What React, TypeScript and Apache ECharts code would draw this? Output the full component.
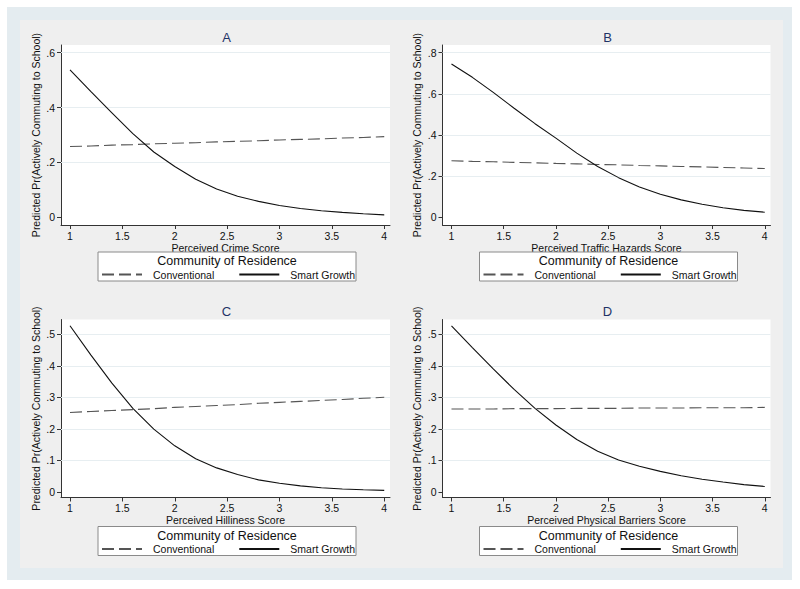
import React, { useEffect, useRef } from "react";
import * as echarts from "echarts";

// ---------- data ----------
const xValues = [1, 1.2, 1.4, 1.6, 1.8, 2, 2.2, 2.4, 2.6, 2.8, 3, 3.2, 3.4, 3.6, 3.8, 4];

const crimeConventional = [0.258, 0.26, 0.263, 0.265, 0.268, 0.27, 0.272, 0.275, 0.277, 0.279, 0.282, 0.284, 0.286, 0.289, 0.291, 0.294];
const crimeSmart = [0.537, 0.458, 0.381, 0.305, 0.238, 0.185, 0.139, 0.103, 0.077, 0.058, 0.043, 0.032, 0.024, 0.018, 0.013, 0.009];

const trafficConventional = [0.275, 0.272, 0.27, 0.267, 0.265, 0.262, 0.26, 0.257, 0.255, 0.252, 0.25, 0.247, 0.245, 0.242, 0.24, 0.237];
const trafficSmart = [0.745, 0.68, 0.607, 0.53, 0.455, 0.385, 0.312, 0.247, 0.193, 0.148, 0.112, 0.085, 0.064, 0.047, 0.034, 0.025];

const hillinessConventional = [0.252, 0.255, 0.258, 0.261, 0.264, 0.268, 0.271, 0.274, 0.277, 0.281, 0.284, 0.287, 0.29, 0.293, 0.297, 0.3];
const hillinessSmart = [0.527, 0.434, 0.345, 0.265, 0.199, 0.146, 0.105, 0.076, 0.055, 0.038, 0.027, 0.019, 0.013, 0.009, 0.0065, 0.0045];

const barriersConventional = [0.263, 0.263, 0.263, 0.264, 0.264, 0.264, 0.265, 0.265, 0.265, 0.266, 0.266, 0.266, 0.267, 0.267, 0.267, 0.268];
const barriersSmart = [0.527, 0.458, 0.39, 0.325, 0.265, 0.212, 0.166, 0.129, 0.101, 0.081, 0.065, 0.051, 0.04, 0.031, 0.023, 0.017];

const xTicks = [1, 1.5, 2, 2.5, 3, 3.5, 4];
const yTicksCrime = [0, 0.2, 0.4, 0.6];
const yTicksTraffic = [0, 0.2, 0.4, 0.6, 0.8];
const yTicksHilliness = [0, 0.1, 0.2, 0.3, 0.4, 0.5];
const yTicksBarriers = [0, 0.1, 0.2, 0.3, 0.4, 0.5];

const panelTitles = ["A", "B", "C", "D"];
const xAxisTitles = [
  "Perceived Crime Score",
  "Perceived Traffic Hazards Score",
  "Perceived Hilliness Score",
  "Perceived Physical Barriers Score",
];
const yAxisTitle = "Predicted Pr(Actively Commuting to School)";
const legendTitle = "Community of Residence";
const seriesNames = ["Conventional", "Smart Growth"];

// ---------- layout / style ----------
const FONT = "'Liberation Sans', Arial, Helvetica, sans-serif";
const TEXT = "#111111";
const AXIS = "#333333";
const FS = 10.5;

const panelData = [
  { conv: crimeConventional, smart: crimeSmart, yTicks: yTicksCrime },
  { conv: trafficConventional, smart: trafficSmart, yTicks: yTicksTraffic },
  { conv: hillinessConventional, smart: hillinessSmart, yTicks: yTicksHilliness },
  { conv: barriersConventional, smart: barriersSmart, yTicks: yTicksBarriers },
];

const layouts = [
  { left: 61, top: 45, width: 329, height: 180, yMin: -0.028, yMax: 0.628 },
  { left: 442.5, top: 45, width: 328, height: 180, yMin: -0.037, yMax: 0.837 },
  { left: 61, top: 319.5, width: 329, height: 178, yMin: -0.018, yMax: 0.547 },
  { left: 442.5, top: 319.5, width: 328, height: 178, yMin: -0.018, yMax: 0.547 },
];

const fmtY = (v: number) => {
  if (Math.abs(v) < 1e-9) return "0";
  return String(Math.round(v * 10) / 10).replace(/^0\./, ".");
};

function buildOption() {
  const grid: any[] = [];
  const xAxis: any[] = [];
  const yAxis: any[] = [];
  const series: any[] = [];
  const legend: any[] = [];
  const graphic: any[] = [
    { type: "rect", z: -10, silent: true, shape: { x: 7, y: 7, width: 785, height: 573 }, style: { fill: "#e4ecf0" } },
    { type: "rect", z: -9, silent: true, shape: { x: 20, y: 20, width: 763, height: 548 }, style: { fill: "#efefef" } },
  ];

  layouts.forEach((L, i) => {
    const P = panelData[i];
    grid.push({
      left: L.left,
      top: L.top,
      width: L.width,
      height: L.height,
      show: true,
      backgroundColor: "#ffffff",
      borderWidth: 0,
      containLabel: false,
    });
    xAxis.push({
      type: "value",
      gridIndex: i,
      min: 0.914,
      max: 4.055,
      name: xAxisTitles[i],
      nameLocation: "middle",
      nameGap: 17,
      nameTextStyle: { fontSize: FS, color: TEXT, fontFamily: FONT },
      axisLine: { show: true, onZero: false, lineStyle: { color: AXIS, width: 1 } },
      axisTick: { show: true, length: 4, customValues: xTicks, lineStyle: { color: AXIS } },
      axisLabel: {
        customValues: xTicks,
        formatter: (v: number) => String(v),
        fontSize: FS,
        color: TEXT,
        margin: 5,
        fontFamily: FONT,
      },
      splitLine: { show: false },
    });
    yAxis.push({
      type: "value",
      gridIndex: i,
      min: L.yMin,
      max: L.yMax,
      name: yAxisTitle,
      nameLocation: "middle",
      nameGap: 20,
      nameTextStyle: { fontSize: FS, color: TEXT, fontFamily: FONT },
      axisLine: { show: true, onZero: false, lineStyle: { color: AXIS, width: 1 } },
      axisTick: { show: true, length: 4, customValues: P.yTicks, lineStyle: { color: AXIS } },
      axisLabel: {
        customValues: P.yTicks,
        formatter: fmtY,
        fontSize: FS,
        color: TEXT,
        margin: 6,
        fontFamily: FONT,
      },
      splitLine: { show: false },
    });
    series.push({
      type: "line",
      name: seriesNames[0],
      xAxisIndex: i,
      yAxisIndex: i,
      data: xValues.map((x, j) => [x, P.conv[j]]),
      symbol: "none",
      z: 3,
      lineStyle: { color: "#555555", width: 1.1, type: [12, 5] },
      itemStyle: { color: "#555555" },
      markLine: {
        silent: true,
        symbol: "none",
        label: { show: false },
        z: 1,
        lineStyle: { color: "#e7eef1", type: "solid", width: 1 },
        data: P.yTicks.filter((v) => v > 0).map((v) => ({ yAxis: v })),
      },
    });
    series.push({
      type: "line",
      name: seriesNames[1],
      xAxisIndex: i,
      yAxisIndex: i,
      data: xValues.map((x, j) => [x, P.smart[j]]),
      symbol: "none",
      z: 4,
      lineStyle: { color: "#111111", width: 1.1, type: "solid" },
      itemStyle: { color: "#111111" },
    });

    const boxLeft = L.left + 37;
    const boxTop = L.top + 207;
    const boxW = 258;
    const boxH = 29;
    graphic.push({
      type: "rect",
      z: 1,
      silent: true,
      shape: { x: boxLeft, y: boxTop, width: boxW, height: boxH },
      style: { fill: "#ffffff", stroke: "#8a8a8a", lineWidth: 1 },
    });
    graphic.push({
      type: "text",
      z: 2,
      silent: true,
      x: boxLeft + boxW / 2,
      y: boxTop + 9,
      style: {
        text: legendTitle,
        fill: TEXT,
        font: `12.5px ${FONT}`,
        fontSize: 12.5,
        fontFamily: FONT,
        align: "center",
        verticalAlign: "middle",
        textAlign: "center",
        textVerticalAlign: "middle",
      },
    });
    graphic.push({
      type: "text",
      z: 2,
      silent: true,
      x: L.left + L.width / 2 + 1,
      y: L.top - 8,
      style: {
        text: panelTitles[i],
        fill: "#1f3366",
        font: `13px ${FONT}`,
        fontSize: 13,
        fontFamily: FONT,
        align: "center",
        verticalAlign: "middle",
        textAlign: "center",
        textVerticalAlign: "middle",
      },
    });
    legend.push({
      data: seriesNames,
      left: boxLeft + 3,
      top: boxTop + 17,
      orient: "horizontal",
      itemWidth: 40,
      itemHeight: 10,
      itemGap: 24,
      padding: 0,
      selectedMode: false,
      z: 3,
      itemStyle: { opacity: 0, borderWidth: 0 },
      textStyle: { fontSize: FS, color: TEXT, fontFamily: FONT, padding: [0, 0, 0, 6] },
    });
  });

  return {
    animation: false,
    backgroundColor: "#ffffff",
    textStyle: { fontFamily: FONT },
    grid,
    xAxis,
    yAxis,
    series,
    legend,
    graphic,
  };
}

export default function App() {
  const ref = useRef<HTMLDivElement | null>(null);
  useEffect(() => {
    if (!ref.current) return;
    const chart = echarts.init(ref.current, null, { renderer: "svg" });
    chart.setOption(buildOption() as any);
    return () => {
      chart.dispose();
    };
  }, []);
  return (
    <div
      ref={ref}
      style={{ position: "absolute", left: 0, top: 0, width: 800, height: 589 }}
    />
  );
}
